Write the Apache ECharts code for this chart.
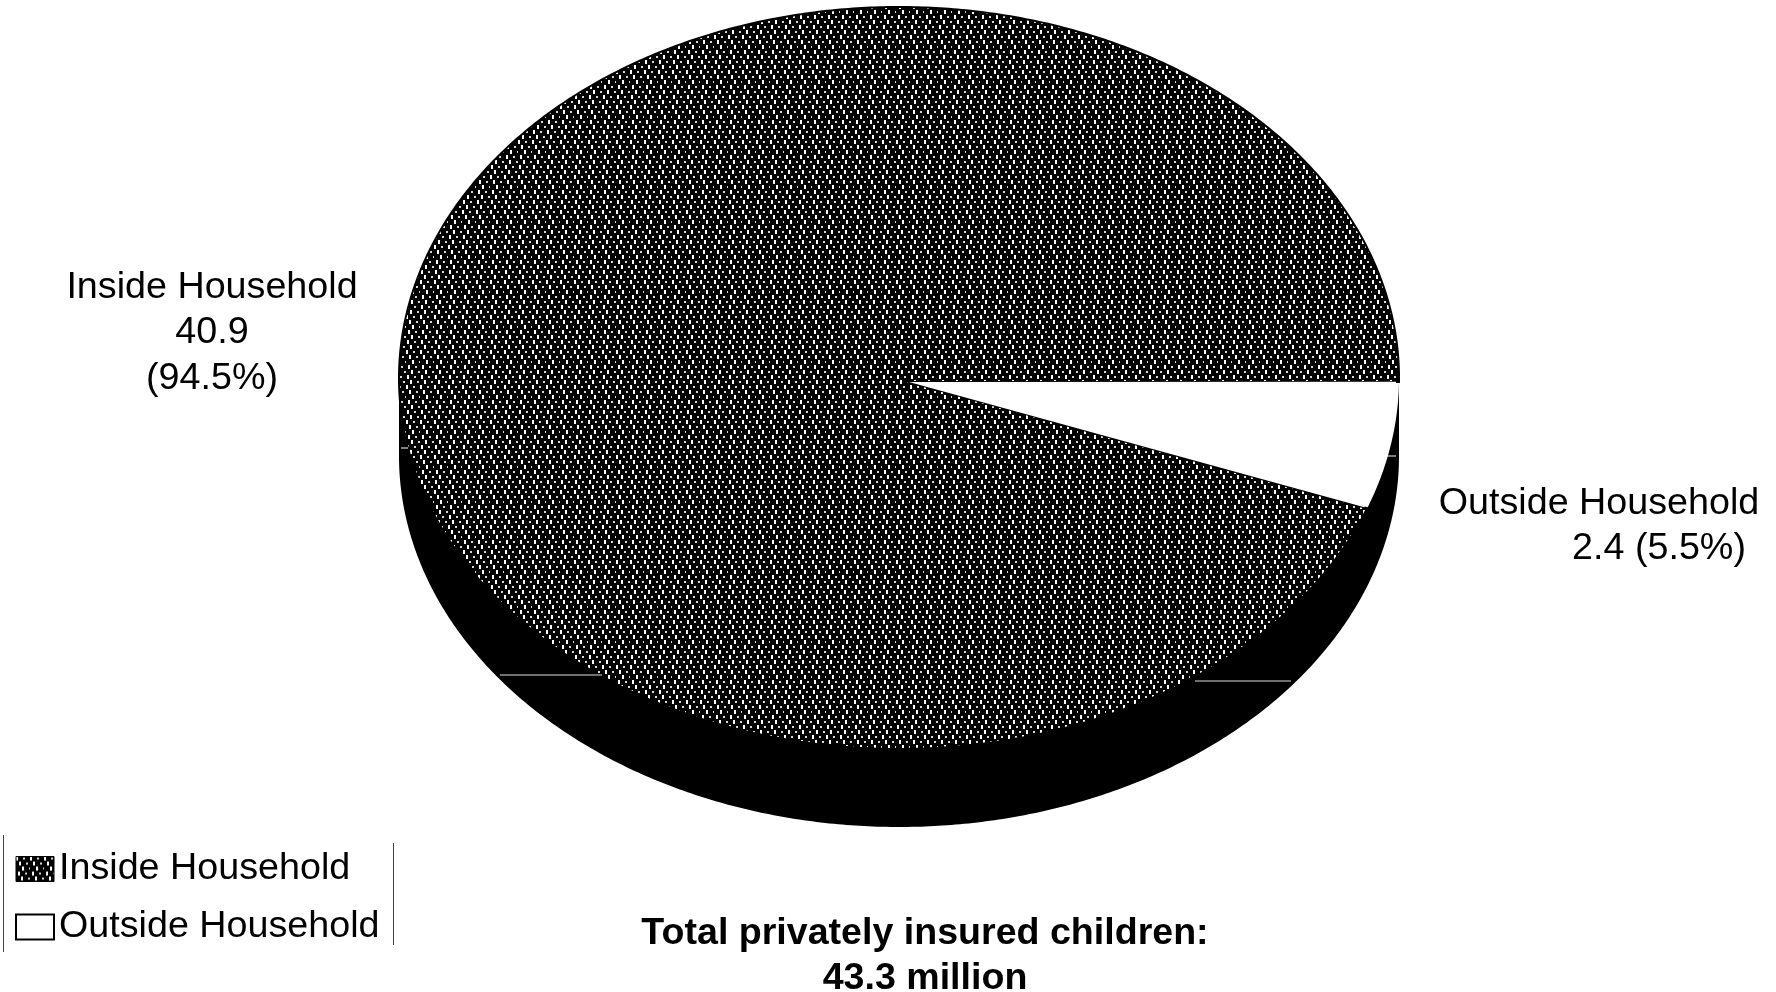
<!DOCTYPE html>
<html>
<head>
<meta charset="utf-8">
<style>html,body{margin:0;padding:0;background:#fff}#chart{width:1776px;height:992px}</style>
<script src="https://cdn.jsdelivr.net/npm/echarts@6/dist/echarts.min.js"></script>
</head>
<body>
<div id="chart"></div>
<script>
// Privately insured children by whether the policy holder lives in the household (millions)
const categories = ['Inside Household', 'Outside Household'];
const millions = [40.9, 2.4];
const percents = [94.5, 5.5];
const totalCaption = ['Total privately insured children:', '43.3 million'];

const FONT = '"Liberation Sans", Arial, sans-serif';
const PIE = { cx: 899, cy: 378, rx: 500, ry: 371, depth: 78, startDeg: 0.6 };

// Dark stipple used for the large slice and its legend key: slanted rows of light flecks
function stippleTile() {
  const c = document.createElement('canvas');
  c.width = 14; c.height = 35;
  const g = c.getContext('2d');
  g.fillStyle = '#000';
  g.fillRect(0, 0, 14, 35);
  for (let row = 0; row < 7; row++) {
    const y = row * 5;
    const x = (row * 3) % 7;
    g.fillStyle = '#fff';
    g.fillRect(x, y, 2, 4);
    g.fillStyle = '#d8d8d8';
    g.fillRect(x + 7, y + 1, 2, 2);
  }
  return c;
}
const stipple = { image: stippleTile(), repeat: 'repeat' };

const total = millions[0] + millions[1];
const outsideSweep = millions[1] / total * 360;

function arc(from, to, rx, ry, cy) {
  const pts = [];
  const n = Math.ceil(Math.abs(to - from) * 2);
  for (let i = 0; i <= n; i++) {
    const t = (from + (to - from) * i / n) * Math.PI / 180;
    pts.push([PIE.cx + rx * Math.cos(t), cy + ry * Math.sin(t)]);
  }
  return pts;
}

function renderInside() {
  const from = PIE.startDeg + outsideSweep;
  const wall = arc(0, 180, PIE.rx, PIE.ry, PIE.cy + PIE.depth)
    .concat(arc(180, 0, PIE.rx, PIE.ry, PIE.cy));
  return {
    type: 'group',
    children: [
      { type: 'polygon', shape: { points: wall }, style: { fill: '#000' } },
      {
        type: 'polygon',
        shape: { points: [[PIE.cx + 10, PIE.cy + 4]].concat(arc(from, PIE.startDeg + 360, PIE.rx, PIE.ry, PIE.cy)) },
        style: { fill: stipple, stroke: '#000', lineWidth: 2 }
      }
    ]
  };
}

function renderOutside() {
  const pts = [[PIE.cx + 10, PIE.cy + 4]].concat(arc(PIE.startDeg, PIE.startDeg + outsideSweep, PIE.rx - 3, PIE.ry - 3, PIE.cy));
  return { type: 'polygon', shape: { points: pts }, style: { fill: '#fff' } };
}

function text(x, y, str, weight, size) {
  return {
    type: 'text', x, y, z: 20,
    style: { text: str, x: 0, y: 0, align: 'center', verticalAlign: 'middle', font: (weight || 'normal') + ' ' + (size || 37.7) + 'px ' + FONT, fill: '#000' }
  };
}
function rule(x1, y1, x2, y2, stroke, lineWidth) {
  return { type: 'line', z: 15, shape: { x1, y1, x2, y2 }, style: { stroke, lineWidth } };
}

const chart = echarts.init(document.getElementById('chart'), null, { renderer: 'canvas' });
chart.setOption({
  animation: false,
  backgroundColor: '#fff',
  legend: {
    left: 15, top: 850, orient: 'vertical', padding: 0,
    itemWidth: 38, itemHeight: 25, itemGap: 20, selectedMode: false,
    textStyle: { fontFamily: FONT, fontSize: 37.7, color: '#000' },
    data: [
      { name: categories[0], icon: 'rect', itemStyle: { color: stipple, borderColor: '#000', borderWidth: 1 } },
      { name: categories[1], icon: 'rect', itemStyle: { color: '#fff', borderColor: '#000', borderWidth: 2 } }
    ]
  },
  series: [
    { type: 'custom', name: categories[0], coordinateSystem: 'none', silent: true, data: [millions[0]], renderItem: renderInside, itemStyle: { color: '#000' } },
    { type: 'custom', name: categories[1], coordinateSystem: 'none', silent: true, data: [millions[1]], renderItem: renderOutside, itemStyle: { color: '#fff' } }
  ],
  graphic: { elements: [
    text(212, 288, categories[0]),
    text(212, 333, String(millions[0])),
    text(212, 379, '(' + percents[0] + '%)'),
    text(1599, 504, categories[1]),
    text(1659, 549, millions[1] + ' (' + percents[1] + '%)'),
    text(925, 934, totalCaption[0], 'bold', 37.6),
    text(925, 979, totalCaption[1], 'bold', 37.6),
    // legend frame: only its two side rules survive
    rule(3.5, 835, 3.5, 952, '#444', 1),
    rule(393.5, 843, 393.5, 945, '#444', 1),
    // thin light seams across the pie wall
    rule(500, 675, 602, 675, '#ddd', 1),
    rule(1195, 681, 1291, 681, '#ddd', 1),
    rule(1387, 456, 1396, 456, '#fff', 1),
    rule(401, 448, 408, 448, '#fff', 1)
  ] }
});
</script>
</body>
</html>
